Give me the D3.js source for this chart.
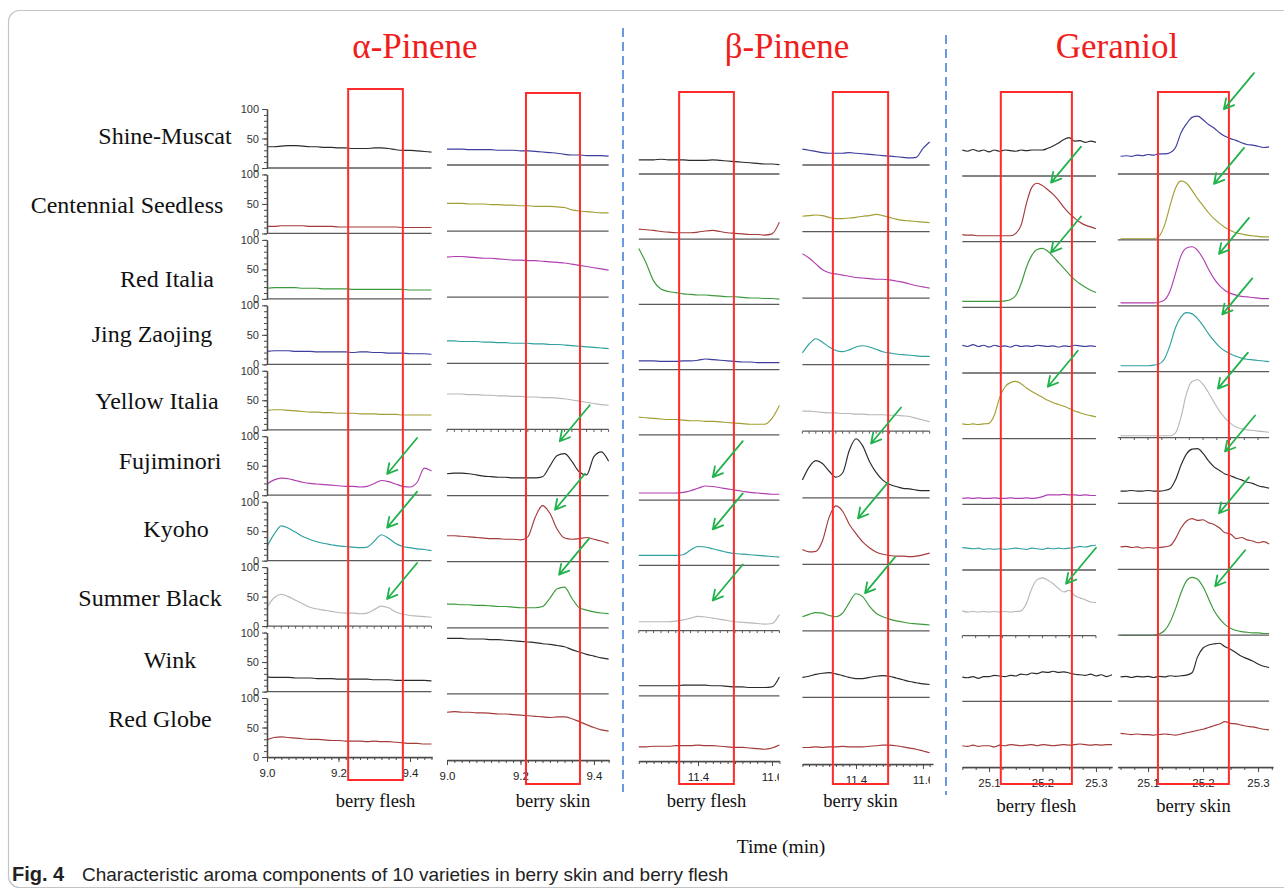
<!DOCTYPE html>
<html>
<head>
<meta charset="utf-8">
<script src="https://cdn.jsdelivr.net/npm/d3@7"></script>
<style>
  body { margin: 0; background: #fff; }
  svg { display: block; }
</style>
</head>
<body>
<svg id="fig" width="1284" height="892"></svg>
<script>
// ---- categories ----
const varieties = ["Shine-Muscat", "Centennial Seedless", "Red Italia", "Jing Zaojing", "Yellow Italia",
  "Fujiminori", "Kyoho", "Summer Black", "Wink", "Red Globe"];
const compounds = ["α-Pinene", "β-Pinene", "Geraniol"];
const tissues = ["berry flesh", "berry skin"];

// ---- tick labels ----
const alphaTicks = [9.0, 9.2, 9.4];
const betaTicks = [11.4, 11.6];
const geraniolTicks = [25.1, 25.2, 25.3];
const intensityTicks = [0, 50, 100];

// ---- retention time samples (min) ----
const alphaFleshTime = [9.00, 9.02, 9.04, 9.06, 9.08, 9.10, 9.12, 9.14, 9.16, 9.18, 9.20, 9.22,
  9.24, 9.26, 9.28, 9.30, 9.32, 9.34, 9.36, 9.38, 9.40, 9.42, 9.44, 9.46];
const alphaSkinTime = [9.00, 9.02, 9.04, 9.06, 9.08, 9.10, 9.12, 9.14, 9.16, 9.18, 9.20, 9.22,
  9.24, 9.26, 9.28, 9.30, 9.32, 9.34, 9.36, 9.38, 9.40, 9.42, 9.44];
const betaTime = [11.24, 11.26, 11.28, 11.30, 11.32, 11.34, 11.36, 11.38, 11.40, 11.42,
  11.44, 11.46, 11.48, 11.50, 11.52, 11.54, 11.56, 11.58, 11.60, 11.62];
const geraniolFleshTime = [25.05, 25.06, 25.07, 25.08, 25.09, 25.10, 25.11, 25.12, 25.13, 25.14,
  25.15, 25.16, 25.17, 25.18, 25.19, 25.20, 25.21, 25.22, 25.23, 25.24, 25.25, 25.26, 25.27,
  25.28, 25.29, 25.30, 25.31, 25.32, 25.33];
const geraniolSkinTime = [25.05, 25.06, 25.07, 25.08, 25.09, 25.10, 25.11, 25.12, 25.13, 25.14,
  25.15, 25.16, 25.17, 25.18, 25.19, 25.20, 25.21, 25.22, 25.23, 25.24, 25.25, 25.26, 25.27,
  25.28, 25.29, 25.30, 25.31, 25.32];

// ---- relative intensity (%), one row per variety ----
const alphaFleshValues = [
  [36,36,37,38,38,37,36,36,35,35,34,34,33,33,33,34,34,33,31,30,30,29,28,27],
  [12,12,13,13,13,13,12,12,12,12,11,11,11,11,11,11,11,11,11,10,10,10,10,10],
  [18,19,19,19,19,18,18,18,17,17,17,17,16,16,16,16,16,16,16,16,15,15,15,15],
  [22,23,23,23,22,22,22,21,21,21,21,21,20,21,21,20,20,19,19,19,18,18,18,17],
  [33,34,34,33,32,31,30,30,29,29,28,28,28,27,27,27,26,26,26,25,25,25,25,25],
  [19,26,29,28,25,22,20,19,18,17,16,15,15,14,15,20,25,23,19,15,14,22,46,41],
  [24,45,59,55,48,41,36,32,29,27,25,24,23,22,23,33,44,38,29,24,22,20,19,17],
  [32,48,54,50,44,38,32,29,27,25,23,22,22,21,22,28,34,31,24,20,18,17,16,15],
  [25,24,24,24,23,23,23,22,22,22,21,21,21,21,21,20,20,20,19,19,19,19,19,18],
  [29,33,34,33,32,31,30,30,29,28,28,27,27,27,26,27,26,26,25,24,23,23,22,22]
];
const alphaSkinValues = [
  [27,27,27,26,26,26,26,25,25,25,24,24,23,22,21,20,18,17,17,16,16,16,15],
  [47,47,47,46,46,46,45,45,44,44,43,43,42,42,42,41,40,36,34,33,32,31,31],
  [68,69,69,68,67,66,66,65,64,63,63,62,62,61,60,59,58,56,54,52,50,48,46],
  [38,38,37,37,37,36,36,35,35,34,34,34,33,33,32,32,31,30,29,28,27,26,25],
  [60,60,60,59,59,58,58,57,57,56,56,55,55,54,54,53,52,50,48,46,44,42,41],
  [37,38,38,37,35,33,32,31,31,30,30,30,30,32,50,68,71,58,40,35,66,74,58],
  [44,44,43,42,41,40,39,39,38,38,37,42,75,95,82,55,40,38,39,41,38,35,31],
  [40,40,39,39,38,38,37,36,36,35,34,34,34,36,50,66,69,50,34,30,27,25,24],
  [94,94,94,93,93,93,92,92,91,90,89,88,87,85,84,82,80,75,71,67,64,61,59],
  [81,82,81,81,80,80,79,78,78,77,76,75,74,73,72,73,73,70,65,60,55,51,49]
];
const betaFleshValues = [
  [24,24,24,25,24,24,24,23,23,23,24,23,22,21,20,19,18,17,17,16],
  [17,16,15,13,12,11,11,11,12,14,15,13,11,10,9,8,8,7,9,29],
  [95,70,40,26,22,20,18,17,16,16,15,14,13,13,12,11,11,10,10,9],
  [15,15,15,14,14,14,15,15,16,18,17,16,15,14,13,13,12,12,12,12],
  [30,29,28,27,26,26,25,24,24,23,23,22,21,20,19,18,18,18,28,50],
  [12,12,12,12,12,12,13,16,20,24,23,21,19,17,15,13,12,11,10,10],
  [17,17,17,17,17,17,18,26,32,31,28,25,22,20,19,18,17,16,15,14],
  [15,15,15,15,15,16,18,21,24,23,21,19,17,15,14,13,12,11,12,27],
  [17,17,17,17,17,17,18,18,18,18,17,17,16,15,15,14,14,14,15,32],
  [24,24,25,25,25,26,26,26,27,26,26,25,24,23,23,22,21,20,22,27]
];
const betaSkinValues = [
  [27,25,23,21,20,20,20,21,20,19,18,17,16,15,14,13,12,13,28,39],
  [26,27,28,27,24,22,22,23,24,26,27,29,27,24,21,19,18,17,16,15],
  [75,68,58,48,43,41,39,37,35,34,33,32,32,31,29,27,24,21,19,17],
  [20,35,44,38,30,24,22,25,30,32,30,26,22,20,18,17,16,15,14,14],
  [34,34,33,32,31,31,30,30,29,29,28,28,28,27,27,26,25,22,19,16],
  [30,52,63,58,45,35,42,80,100,88,62,43,30,23,19,16,15,13,12,12],
  [25,21,22,40,80,99,90,68,52,38,28,21,17,15,14,14,13,14,16,19],
  [24,28,31,30,26,24,30,48,63,58,42,30,24,20,17,15,13,12,11,10],
  [34,36,39,41,42,40,37,34,32,32,34,36,37,36,33,30,27,25,23,22],
  [28,28,29,28,29,29,30,29,29,29,30,31,32,32,31,29,27,25,22,19]
];
const geraniolFleshValues = [
  [44,42,45,42,44,41,44,42,44,43,42,44,43,44,44,44,47,51,56,62,65,59,60,57,59,57],
  [12,11,11,10,10,10,10,10,10,10,14,28,65,92,99,95,88,80,70,58,48,40,33,28,25,22],
  [10,10,10,10,10,10,10,10,11,13,20,40,68,88,98,100,95,86,76,66,56,47,40,34,29,25],
  [47,45,48,45,47,44,47,45,46,44,47,45,46,45,47,46,45,46,44,46,45,47,46,45,46,45],
  [25,24,25,24,25,26,40,70,88,95,97,93,86,80,75,70,65,61,58,55,51,47,44,41,39,37],
  [10,11,10,11,10,10,11,10,10,11,10,10,11,10,11,13,16,16,16,17,16,16,15,16,15,15],
  [38,37,36,37,35,36,35,36,35,36,37,36,35,37,36,35,37,36,37,36,37,38,40,39,41,42],
  [42,40,41,40,41,40,41,40,41,40,41,42,55,80,95,98,94,88,80,74,77,68,64,61,57,56],
  [41,40,42,39,42,42,44,43,42,44,43,46,45,48,47,50,49,51,49,50,48,46,45,44,46,43,45,42,45],
  [36,35,37,35,36,36,34,37,36,38,37,36,37,38,36,38,37,36,37,38,37,38,39,38,37,38,37,38,38]
];
const geraniolSkinValues = [
  [30,31,30,32,31,33,32,34,34,36,45,70,85,96,98,92,84,78,70,64,60,57,53,50,49,47,45,46],
  [2,2,2,2,2,2,2,6,25,58,88,100,96,84,70,58,46,36,28,21,16,12,10,8,7,6,5,5],
  [5,5,5,5,5,5,5,6,10,25,55,85,98,100,94,80,62,46,34,26,21,18,16,15,14,13,12,12],
  [10,10,10,10,10,10,11,13,22,45,75,93,100,98,90,78,64,52,42,35,30,26,23,21,20,19,18,17],
  [3,3,3,3,3,3,3,3,3,3,8,35,75,95,98,90,76,60,45,33,24,18,15,13,12,11,10,9],
  [21,21,22,21,21,22,21,21,22,25,40,65,84,92,93,85,72,62,56,50,47,43,40,36,34,30,28,26],
  [38,39,37,38,36,37,36,37,38,40,52,70,82,86,83,84,79,76,70,62,60,52,54,50,48,45,47,43],
  [0,0,0,0,0,0,0,2,8,22,45,72,92,98,95,82,62,42,28,18,12,8,6,5,4,4,3,3],
  [41,42,40,42,41,42,40,42,41,43,42,43,44,48,75,90,95,97,98,92,88,82,76,72,68,63,59,57],
  [57,56,55,56,55,55,54,55,56,55,54,56,58,60,62,64,67,70,73,77,74,73,71,69,68,66,64,63]
];

// ---- retention windows of the target compound (min) ----
const alphaFleshWindow = [9.227, 9.380];
const alphaSkinWindow = [9.215, 9.362];
const betaFleshWindow = [11.349, 11.497];
const betaSkinWindow = [11.331, 11.496];
const geraniolFleshWindow = [25.122, 25.255];
const geraniolSkinWindow = [25.118, 25.247];

// ---- highlighted peaks: [variety index, time, intensity at arrow tip] ----
const alphaFleshArrows = [[5, 9.336, 36], [6, 9.336, 56], [7, 9.336, 46]];
const alphaSkinArrows = [[5, 9.307, 92], [6, 9.294, 88], [7, 9.305, 90]];
const betaFleshArrows = [[5, 11.44, 39], [6, 11.44, 61], [7, 11.44, 51]];
const betaSkinArrows = [[5, 11.445, 92], [6, 11.406, 78], [7, 11.427, 64]];
const geraniolFleshArrows = [[1, 25.216, 100], [2, 25.216, 93], [4, 25.21, 88], [7, 25.244, 88]];
const geraniolSkinArrows = [[0, 25.238, 110], [1, 25.22, 95], [2, 25.229, 88], [3, 25.235, 97],
  [4, 25.227, 83], [5, 25.24, 88], [6, 25.229, 95], [7, 25.222, 83]];

// ---- trace colours ----
const C = { black: "#2b2b2b", red: "#a33b3b", green: "#3c9a3c", navy: "#3d3d9e",
  olive: "#a39e35", magenta: "#b03fb0", teal: "#2fa0a0", grey: "#b8b8b8" };
const fleshColors = [C.black, C.red, C.green, C.navy, C.olive, C.magenta, C.teal, C.grey, C.black, C.red];
const skinColors = [C.navy, C.olive, C.magenta, C.teal, C.grey, C.black, C.red, C.green, C.black, C.red];

// ---- panel layout ----
const panels = [
  { times: alphaFleshTime, values: alphaFleshValues, colors: fleshColors, win: alphaFleshWindow,
    arrows: alphaFleshArrows, ticks: alphaTicks, minor: 0.02, domain: [9.0, 9.4615], range: [267, 432],
    base: [168, 757], boxY: [89, 780], yAxis: true, dotted: 7, tissue: 0, labelY: 807, clipX: 1284 },
  { times: alphaSkinTime, values: alphaSkinValues, colors: skinColors, win: alphaSkinWindow,
    arrows: alphaSkinArrows, ticks: alphaTicks, minor: 0.02, domain: [9.0, 9.441], range: [447, 609],
    base: [165, 760], boxY: [93, 784], yAxis: false, dotted: 4, tissue: 1, labelY: 807, clipX: 1284 },
  { times: betaTime, values: betaFleshValues, colors: fleshColors, win: betaFleshWindow,
    arrows: betaFleshArrows, ticks: betaTicks, minor: 0.02, domain: [11.24, 11.62], range: [638.8, 779.4],
    base: [174, 761], boxY: [92, 784], yAxis: false, dotted: 7, tissue: 0, labelY: 807, clipX: 779 },
  { times: betaTime, values: betaSkinValues, colors: skinColors, win: betaSkinWindow,
    arrows: betaSkinArrows, ticks: betaTicks, minor: 0.02, domain: [11.24, 11.63], range: [802.4, 933],
    base: [165, 764], boxY: [92, 784], yAxis: false, dotted: 4, tissue: 1, labelY: 807, clipX: 930 },
  { times: geraniolFleshTime, values: geraniolFleshValues, colors: fleshColors, win: geraniolFleshWindow,
    arrows: geraniolFleshArrows, ticks: geraniolTicks, minor: 0.025, domain: [25.05, 25.33], range: [962.3, 1112],
    base: [176, 767], boxY: [92, 784], yAxis: false, dotted: 7, tissue: 0, labelY: 812, clipX: 1284 },
  { times: geraniolSkinTime, values: geraniolSkinValues, colors: skinColors, win: geraniolSkinWindow,
    arrows: geraniolSkinArrows, ticks: geraniolTicks, minor: 0.025, domain: [25.045, 25.327], range: [1117.8, 1272.9],
    base: [174, 767], boxY: [92, 784], yAxis: false, dotted: 4, tissue: 1, labelY: 812, clipX: 1284 }
];
const panelHeight = 59;            // pixels for 0–100 %
const rowLabelPos = [[165, 144], [127, 213], [167, 287], [152, 342], [157, 409],
  [170, 469], [176, 537], [150, 606], [170, 668], [160, 727]];
const titlePos = [[415, 58], [787, 58], [1117, 58]];
const separators = [[623, 28, 792], [946, 35, 795]];

const svg = d3.select("#fig");
const defs = svg.append("defs");

// frame
svg.append("rect").attr("x", 8.5).attr("y", 10.5).attr("width", 1300).attr("height", 877)
  .attr("rx", 11).attr("fill", "none").attr("stroke", "#c4c4c4").attr("stroke-width", 1.2);

// compound titles
svg.selectAll("text.title").data(compounds).join("text").attr("class", "title")
  .attr("x", (d, i) => titlePos[i][0]).attr("y", (d, i) => titlePos[i][1])
  .attr("text-anchor", "middle").attr("font-family", "Liberation Serif, serif")
  .attr("font-size", 35).attr("fill", "#f01d1d").text(d => d);

// dashed separators
separators.forEach(s => {
  svg.append("line").attr("x1", s[0]).attr("x2", s[0]).attr("y1", s[1]).attr("y2", s[2])
    .attr("stroke", "#5b8fd9").attr("stroke-width", 1.8).attr("stroke-dasharray", "9,5");
});

// variety names
svg.selectAll("text.variety").data(varieties).join("text").attr("class", "variety")
  .attr("x", (d, i) => rowLabelPos[i][0]).attr("y", (d, i) => rowLabelPos[i][1])
  .attr("text-anchor", "middle").attr("font-family", "Liberation Serif, serif")
  .attr("font-size", 24).attr("fill", "#111").text(d => d);

const tickFont = "Liberation Sans, Arial, sans-serif";

panels.forEach((p, pi) => {
  const x = d3.scaleLinear().domain(p.domain).range(p.range);
  const rowBase = d3.scaleLinear().domain([0, varieties.length - 1]).range(p.base);
  const g = svg.append("g");
  const traceLayer = g.append("g");
  const axisLayer = g.append("g");

  p.values.forEach((vals, r) => {
    const b = rowBase(r);
    const y = d3.scaleLinear().domain([0, 100]).range([b, b - panelHeight]);
    const pts = vals.map((v, i) => [p.times[i], v]);
    const tEnd = p.times[vals.length - 1];

    if (r < varieties.length - 1) {
      axisLayer.append("line").attr("x1", p.range[0]).attr("x2", x(tEnd))
        .attr("y1", b).attr("y2", b).attr("stroke", "#5a5a5a").attr("stroke-width", 1.3);
      if (r === p.dotted) {
        const mt = d3.range(Math.ceil(p.domain[0] / p.minor - 1e-6) * p.minor, tEnd + 1e-9, p.minor);
        axisLayer.selectAll(null).data(mt).join("line")
          .attr("x1", d => x(d)).attr("x2", d => x(d)).attr("y1", b).attr("y2", b + 2.5)
          .attr("stroke", "#5a5a5a").attr("stroke-width", 1);
      }
    } else {
      // time axis under the last variety
      const clipId = "clip" + pi;
      defs.append("clipPath").attr("id", clipId).append("rect")
        .attr("x", p.range[0] - 30).attr("y", 0).attr("width", p.clipX - p.range[0] + 30).attr("height", 892);
      const minorTicks = d3.range(Math.ceil(p.domain[0] / p.minor - 1e-6) * p.minor, p.domain[1] + 1e-9, p.minor);
      const ax = axisLayer.append("g").attr("transform", `translate(0,${b})`);
      ax.call(d3.axisBottom(x).tickValues(minorTicks).tickSize(3).tickSizeOuter(0).tickFormat(""));
      ax.call(g2 => g2.append("g").attr("clip-path", `url(#${clipId})`)
        .call(d3.axisBottom(x).tickValues(p.ticks).tickSize(5).tickSizeOuter(0).tickFormat(d3.format(".1f"))));
      ax.selectAll("path.domain").attr("stroke", "#4a4a4a").attr("stroke-width", 1.4);
      ax.selectAll("line").attr("stroke", "#4a4a4a");
      ax.selectAll("text").attr("font-family", tickFont).attr("font-size", 11.5).attr("fill", "#222")
        .attr("dy", "1.05em");
    }

    if (p.yAxis) {
      const ya = axisLayer.append("g").attr("transform", `translate(${p.range[0]},0)`);
      ya.call(d3.axisLeft(y).tickValues(d3.range(0, 101, 10)).tickSize(3).tickSizeOuter(0).tickFormat(""));
      ya.call(g2 => g2.append("g").call(d3.axisLeft(y).tickValues(intensityTicks).tickSize(5).tickSizeOuter(0)));
      ya.selectAll("path.domain").attr("stroke", "#4a4a4a").attr("stroke-width", 1.3);
      ya.selectAll("line").attr("stroke", "#4a4a4a");
      ya.selectAll("text").attr("font-family", tickFont).attr("font-size", 11).attr("fill", "#333");
    }

    traceLayer.append("path").datum(pts)
      .attr("d", d3.line().x(d => x(d[0])).y(d => y(d[1])).curve(d3.curveMonotoneX))
      .attr("fill", "none").attr("stroke", p.colors[r]).attr("stroke-width", 1.15);
  });

  // retention window
  g.append("rect").attr("x", x(p.win[0])).attr("y", p.boxY[0])
    .attr("width", x(p.win[1]) - x(p.win[0])).attr("height", p.boxY[1] - p.boxY[0])
    .attr("fill", "none").attr("stroke", "#ff2b2b").attr("stroke-width", 2);

  // arrows pointing at the compound peak
  p.arrows.forEach(a => {
    const b = rowBase(a[0]);
    const tip = [x(a[1]), b - a[2] / 100 * panelHeight];
    const tail = [tip[0] + 30, tip[1] - 36];
    const ang = Math.atan2(tip[1] - tail[1], tip[0] - tail[0]);
    const hl = 11, spread = 0.5;
    const h1 = [tip[0] - hl * Math.cos(ang - spread), tip[1] - hl * Math.sin(ang - spread)];
    const h2 = [tip[0] - hl * Math.cos(ang + spread), tip[1] - hl * Math.sin(ang + spread)];
    g.append("path")
      .attr("d", `M${tail[0]},${tail[1]}L${tip[0]},${tip[1]}M${h1[0]},${h1[1]}L${tip[0]},${tip[1]}L${h2[0]},${h2[1]}`)
      .attr("fill", "none").attr("stroke", "#22b24c").attr("stroke-width", 1.8)
      .attr("stroke-linecap", "round").attr("stroke-linejoin", "round");
  });

  // tissue label
  svg.append("text").attr("x", (x(p.win[0]) + x(p.win[1])) / 2).attr("y", p.labelY)
    .attr("text-anchor", "middle").attr("font-family", "Liberation Serif, serif")
    .attr("font-size", 18.5).attr("fill", "#111").text(tissues[p.tissue]);
});

// axis title
svg.append("text").attr("x", 781).attr("y", 853).attr("text-anchor", "middle")
  .attr("font-family", "Liberation Serif, serif").attr("font-size", 19.5).attr("fill", "#111")
  .text("Time (min)");

// caption
const cap = svg.append("text").attr("x", 12).attr("y", 881)
  .attr("font-family", "Liberation Sans, Arial, sans-serif")
  .attr("font-size", 19).attr("fill", "#222");
cap.append("tspan").attr("font-weight", "bold").attr("font-size", 20).text("Fig. 4");
cap.append("tspan").attr("x", 82).text("Characteristic aroma components of 10 varieties in berry skin and berry flesh");
</script>
</body>
</html>
